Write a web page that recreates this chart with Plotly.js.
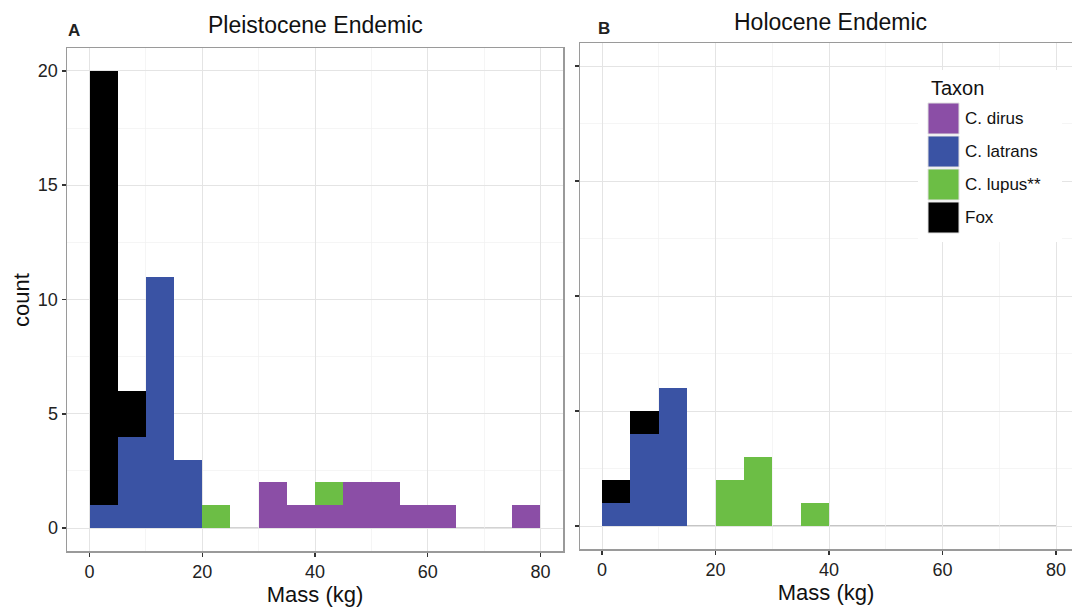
<!DOCTYPE html>
<html>
<head>
<meta charset="utf-8">
<script src="https://cdn.plot.ly/plotly-3.0.1.min.js"></script>
<style>html,body{margin:0;padding:0;background:#fff;}#chart{width:1072px;height:607px;}</style>
</head>
<body>
<div id="chart"></div>
<script>
// ---- data ----
const binStart = [0,5,10,15,20,25,30,35,40,45,50,55,60,65,70,75];
const binWidth = 5;
const taxa = ["C. dirus", "C. latrans", "C. lupus**", "Fox"];
const taxaColors = ["#8B4EA6", "#3A53A4", "#6CBE45", "#000000"];

// Panel A: Pleistocene Endemic
const pleistoceneDirus   = [0,0,0,0,0,0,2,1,1,2,2,1,1,0,0,1];
const pleistoceneLatrans = [1,4,11,3,0,0,0,0,0,0,0,0,0,0,0,0];
const pleistoceneLupus   = [0,0,0,0,1,0,0,0,1,0,0,0,0,0,0,0];
const pleistoceneFox     = [19,2,0,0,0,0,0,0,0,0,0,0,0,0,0,0];

// Panel B: Holocene Endemic
const holoceneDirus   = [0,0,0,0,0,0,0,0,0,0,0,0,0,0,0,0];
const holoceneLatrans = [1,4,6,0,0,0,0,0,0,0,0,0,0,0,0,0];
const holoceneLupus   = [0,0,0,0,2,3,0,1,0,0,0,0,0,0,0,0];
const holoceneFox     = [1,1,0,0,0,0,0,0,0,0,0,0,0,0,0,0];

const xTicks = [0,20,40,60,80];
const yTicks = [0,5,10,15,20];

// ---- build ----
const centers = binStart.map(b => b + binWidth/2);
const FONT = "Liberation Sans, Arial, Helvetica, sans-serif";

function barTrace(vals, i, xa, ya) {
  return {
    type: "bar", x: centers, y: vals, width: binWidth,
    name: taxa[i], xaxis: xa, yaxis: ya, showlegend: false,
    marker: {color: taxaColors[i], line: {width: 0}},
    hoverinfo: "x+y+name"
  };
}
const panelA = [pleistoceneDirus, pleistoceneLatrans, pleistoceneLupus, pleistoceneFox];
const panelB = [holoceneDirus, holoceneLatrans, holoceneLupus, holoceneFox];
const data = [];
panelA.forEach((v,i) => data.push(barTrace(v, i, "x", "y")));
panelB.forEach((v,i) => data.push(barTrace(v, i, "x2", "y2")));

const W = 1072, H = 607;
const px = v => v / W, py = v => 1 - v / H;

const gridMajor = "#e4e4e4", gridMinor = "#f1f1f1";
function xAxis(domain, range, anchor) {
  return {
    domain: domain, range: range, anchor: anchor,
    tickvals: xTicks, ticks: "outside", ticklen: 4, tickwidth: 1.5, tickcolor: "#333",
    tickfont: {family: FONT, size: 18, color: "#222"},
    showgrid: true, gridcolor: gridMajor, gridwidth: 1,
    minor: {dtick: 10, tick0: 0, showgrid: true, gridcolor: gridMinor, gridwidth: 0.7, ticks: ""},
    zeroline: false, showline: true, mirror: true, linecolor: "#9a9a9a", linewidth: 1.5,
    title: {text: "Mass (kg)", font: {family: FONT, size: 22, color: "#111"}, standoff: 1},
    fixedrange: true
  };
}
function yAxis(domain, anchor, labels) {
  return {
    domain: domain, range: [-1, 21], anchor: anchor,
    tickvals: yTicks, ticks: "outside", ticklen: 4, tickwidth: 1.5, tickcolor: "#333",
    showticklabels: labels,
    tickfont: {family: FONT, size: 18, color: "#222"},
    showgrid: true, gridcolor: gridMajor, gridwidth: 1,
    minor: {dtick: 2.5, tick0: 0, showgrid: true, gridcolor: gridMinor, gridwidth: 0.7, ticks: ""},
    zeroline: false, showline: true, mirror: true, linecolor: "#9a9a9a", linewidth: 1.5,
    fixedrange: true
  };
}

const shapes = [];
const annotations = [];
// zero baseline across the binned range (as ggplot draws empty bins)
[["x","y"],["x2","y2"]].forEach(([xa,ya]) => {
  shapes.push({type: "line", xref: xa, yref: ya, layer: "below",
    x0: binStart[0], x1: binStart[binStart.length-1] + binWidth, y0: 0, y1: 0,
    line: {color: "#8a8a8a", width: 1}});
});

// panel titles and letters
annotations.push({xref: "paper", yref: "paper", x: px(315), y: py(25), text: "Pleistocene Endemic",
  showarrow: false, font: {family: FONT, size: 23, color: "#111"}, xanchor: "center", yanchor: "middle"});
annotations.push({xref: "paper", yref: "paper", x: px(830), y: py(22), text: "Holocene Endemic",
  showarrow: false, font: {family: FONT, size: 23, color: "#111"}, xanchor: "center", yanchor: "middle"});
annotations.push({xref: "paper", yref: "paper", x: px(74), y: py(30), text: "<b>A</b>",
  showarrow: false, font: {family: FONT, size: 17, color: "#222"}, xanchor: "center", yanchor: "middle"});
annotations.push({xref: "paper", yref: "paper", x: px(604), y: py(29), text: "<b>B</b>",
  showarrow: false, font: {family: FONT, size: 17, color: "#222"}, xanchor: "center", yanchor: "middle"});
// y axis title
annotations.push({xref: "paper", yref: "paper", x: px(21), y: py(300), text: "count", textangle: -90,
  showarrow: false, font: {family: FONT, size: 22, color: "#111"}, xanchor: "center", yanchor: "middle"});

// legend (drawn manually to match ggplot key size)
shapes.push({type: "rect", xref: "paper", yref: "paper", layer: "above",
  x0: px(918), x1: px(1062), y0: py(70), y1: py(242), fillcolor: "#ffffff", line: {width: 0}});
annotations.push({xref: "paper", yref: "paper", x: px(929), y: py(88), text: "Taxon",
  showarrow: false, font: {family: FONT, size: 20, color: "#111"}, xanchor: "left", yanchor: "middle"});
const keyTop = 102, keyH = 33, keyL = 928, keyW = 31;
taxa.forEach((t, i) => {
  const top = keyTop + i * keyH;
  shapes.push({type: "rect", xref: "paper", yref: "paper", layer: "above",
    x0: px(keyL), x1: px(keyL + keyW), y0: py(top + 1), y1: py(top + keyH - 1),
    fillcolor: taxaColors[i], line: {color: "#e0e0e0", width: 1}});
  annotations.push({xref: "paper", yref: "paper", x: px(keyL + keyW + 4), y: py(top + keyH/2),
    text: t, showarrow: false, font: {family: FONT, size: 17, color: "#111"},
    xanchor: "left", yanchor: "middle"});
});

const layout = {
  width: W, height: H,
  margin: {l: 0, r: 0, t: 0, b: 0},
  paper_bgcolor: "#ffffff", plot_bgcolor: "#ffffff",
  barmode: "stack", bargap: 0,
  showlegend: false,
  xaxis: xAxis([px(67), px(563)], [-4, 84], "y"),
  yaxis: yAxis([py(551), py(48)], "x", true),
  xaxis2: xAxis([px(580), 1], [-3.88, 82.8], "y2"),
  yaxis2: yAxis([py(549), py(43)], "x2", false),
  shapes: shapes,
  annotations: annotations,
  font: {family: FONT}
};

Plotly.newPlot("chart", data, layout, {displayModeBar: false, staticPlot: true});
</script>
</body>
</html>
